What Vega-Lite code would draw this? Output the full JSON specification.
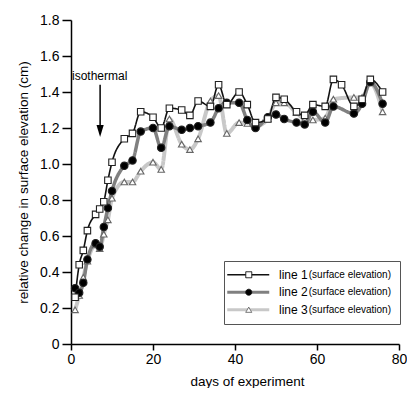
{
  "$schema": "https://vega.github.io/schema/vega-lite/v6.json",
  "width": 328,
  "height": 324,
  "padding": {"left": 16, "top": 13, "right": 0, "bottom": 0},
  "background": "white",
  "config": {
    "view": {"stroke": null},
    "font": "Liberation Sans",
    "axis": {
      "grid": false,
      "domainColor": "#000",
      "tickColor": "#000",
      "labelColor": "#000",
      "titleColor": "#000",
      "domainWidth": 1.5,
      "tickWidth": 1.5,
      "labelFont": "Liberation Sans",
      "titleFont": "Liberation Sans",
      "labelFontSize": 14,
      "titleFontSize": 13.5,
      "titleFontWeight": "normal"
    }
  },
  "datasets": {
    "series": [
      {"series": "line 3", "day": 1, "value": 0.19},
      {"series": "line 3", "day": 2, "value": 0.27},
      {"series": "line 3", "day": 3, "value": 0.37},
      {"series": "line 3", "day": 4, "value": 0.46},
      {"series": "line 3", "day": 6, "value": 0.55},
      {"series": "line 3", "day": 7, "value": 0.53},
      {"series": "line 3", "day": 8, "value": 0.61},
      {"series": "line 3", "day": 9, "value": 0.69},
      {"series": "line 3", "day": 10, "value": 0.81},
      {"series": "line 3", "day": 13, "value": 0.90},
      {"series": "line 3", "day": 15, "value": 0.90},
      {"series": "line 3", "day": 17, "value": 0.96},
      {"series": "line 3", "day": 20, "value": 1.01},
      {"series": "line 3", "day": 22, "value": 0.97},
      {"series": "line 3", "day": 24, "value": 1.25},
      {"series": "line 3", "day": 27, "value": 1.11},
      {"series": "line 3", "day": 29, "value": 1.08},
      {"series": "line 3", "day": 31, "value": 1.14},
      {"series": "line 3", "day": 34, "value": 1.35},
      {"series": "line 3", "day": 36, "value": 1.38},
      {"series": "line 3", "day": 38, "value": 1.17},
      {"series": "line 3", "day": 41, "value": 1.23},
      {"series": "line 3", "day": 43, "value": 1.225},
      {"series": "line 3", "day": 45, "value": 1.21},
      {"series": "line 3", "day": 48, "value": 1.25},
      {"series": "line 3", "day": 50, "value": 1.34},
      {"series": "line 3", "day": 52, "value": 1.34},
      {"series": "line 3", "day": 55, "value": 1.285},
      {"series": "line 3", "day": 57, "value": 1.25},
      {"series": "line 3", "day": 59, "value": 1.245},
      {"series": "line 3", "day": 62, "value": 1.255},
      {"series": "line 3", "day": 64, "value": 1.36},
      {"series": "line 3", "day": 69, "value": 1.37},
      {"series": "line 3", "day": 71, "value": 1.37},
      {"series": "line 3", "day": 73, "value": 1.45},
      {"series": "line 3", "day": 76, "value": 1.29},
      {"series": "line 2", "day": 1, "value": 0.31},
      {"series": "line 2", "day": 2, "value": 0.285},
      {"series": "line 2", "day": 3, "value": 0.34},
      {"series": "line 2", "day": 4, "value": 0.47},
      {"series": "line 2", "day": 6, "value": 0.56},
      {"series": "line 2", "day": 7, "value": 0.54},
      {"series": "line 2", "day": 8, "value": 0.65},
      {"series": "line 2", "day": 9, "value": 0.755},
      {"series": "line 2", "day": 10, "value": 0.85},
      {"series": "line 2", "day": 13, "value": 0.99},
      {"series": "line 2", "day": 15, "value": 1.02},
      {"series": "line 2", "day": 17, "value": 1.18},
      {"series": "line 2", "day": 20, "value": 1.20},
      {"series": "line 2", "day": 22, "value": 1.09},
      {"series": "line 2", "day": 24, "value": 1.21},
      {"series": "line 2", "day": 27, "value": 1.19},
      {"series": "line 2", "day": 29, "value": 1.20},
      {"series": "line 2", "day": 31, "value": 1.21},
      {"series": "line 2", "day": 34, "value": 1.23},
      {"series": "line 2", "day": 36, "value": 1.31},
      {"series": "line 2", "day": 38, "value": 1.34},
      {"series": "line 2", "day": 41, "value": 1.34},
      {"series": "line 2", "day": 43, "value": 1.245},
      {"series": "line 2", "day": 45, "value": 1.20},
      {"series": "line 2", "day": 48, "value": 1.26},
      {"series": "line 2", "day": 50, "value": 1.275},
      {"series": "line 2", "day": 52, "value": 1.25},
      {"series": "line 2", "day": 55, "value": 1.23},
      {"series": "line 2", "day": 57, "value": 1.22},
      {"series": "line 2", "day": 59, "value": 1.29},
      {"series": "line 2", "day": 62, "value": 1.23},
      {"series": "line 2", "day": 64, "value": 1.32},
      {"series": "line 2", "day": 69, "value": 1.28},
      {"series": "line 2", "day": 71, "value": 1.335},
      {"series": "line 2", "day": 73, "value": 1.455},
      {"series": "line 2", "day": 76, "value": 1.335},
      {"series": "line 1", "day": 1, "value": 0.26},
      {"series": "line 1", "day": 2, "value": 0.44},
      {"series": "line 1", "day": 3, "value": 0.52},
      {"series": "line 1", "day": 4, "value": 0.63},
      {"series": "line 1", "day": 6, "value": 0.72},
      {"series": "line 1", "day": 7, "value": 0.75},
      {"series": "line 1", "day": 8, "value": 0.79},
      {"series": "line 1", "day": 9, "value": 0.91},
      {"series": "line 1", "day": 10, "value": 1.01},
      {"series": "line 1", "day": 13, "value": 1.14},
      {"series": "line 1", "day": 15, "value": 1.17},
      {"series": "line 1", "day": 17, "value": 1.29},
      {"series": "line 1", "day": 20, "value": 1.26},
      {"series": "line 1", "day": 22, "value": 1.20},
      {"series": "line 1", "day": 24, "value": 1.31},
      {"series": "line 1", "day": 27, "value": 1.30},
      {"series": "line 1", "day": 29, "value": 1.27},
      {"series": "line 1", "day": 31, "value": 1.35},
      {"series": "line 1", "day": 34, "value": 1.32},
      {"series": "line 1", "day": 36, "value": 1.44},
      {"series": "line 1", "day": 38, "value": 1.33},
      {"series": "line 1", "day": 41, "value": 1.40},
      {"series": "line 1", "day": 43, "value": 1.33},
      {"series": "line 1", "day": 45, "value": 1.23},
      {"series": "line 1", "day": 48, "value": 1.25},
      {"series": "line 1", "day": 50, "value": 1.37},
      {"series": "line 1", "day": 52, "value": 1.36},
      {"series": "line 1", "day": 55, "value": 1.29},
      {"series": "line 1", "day": 57, "value": 1.27},
      {"series": "line 1", "day": 59, "value": 1.33},
      {"series": "line 1", "day": 62, "value": 1.32},
      {"series": "line 1", "day": 64, "value": 1.47},
      {"series": "line 1", "day": 66, "value": 1.44},
      {"series": "line 1", "day": 69, "value": 1.32},
      {"series": "line 1", "day": 71, "value": 1.36},
      {"series": "line 1", "day": 73, "value": 1.47},
      {"series": "line 1", "day": 76, "value": 1.40}
    ]
  },
  "encoding": {
    "x": {
      "field": "day",
      "type": "quantitative",
      "scale": {"domain": [0, 80], "nice": false},
      "axis": {
        "values": [0, 20, 40, 60, 80],
        "title": "days of experiment",
        "tickSize": 6,
        "labelPadding": 2,
        "labelDx": 4,
        "labelFlush": false,
        "titlePadding": 8,
        "titleX": 176
      }
    },
    "y": {
      "field": "value",
      "type": "quantitative",
      "scale": {"domain": [0, 1.8], "nice": false},
      "axis": {
        "values": [0, 0.2, 0.4, 0.6, 0.8, 1, 1.2, 1.4, 1.6, 1.8],
        "labelExpr": "datum.value == 0 ? '0' : format(datum.value, '.1f')",
        "title": "relative change in surface elevation (cm)",
        "tickSize": 9,
        "labelPadding": 3,
        "titlePadding": 9
      }
    }
  },
  "layer": [
    {
      "data": {"name": "series"},
      "mark": {"type": "line", "interpolate": "monotone"},
      "encoding": {
        "color": {
          "field": "series",
          "type": "nominal",
          "scale": {"domain": ["line 1", "line 2", "line 3"], "range": ["#111111", "#808080", "#c8c8c8"]},
          "legend": {
            "orient": "none",
            "legendX": 153,
            "legendY": 240,
            "title": null,
            "padding": 8.75,
            "rowPadding": 5.5,
            "symbolSize": 306,
            "symbolOffset": 9.5,
            "labelOffset": 24.75,
            "labelFont": "Liberation Sans",
            "labelFontSize": 12,
            "labelColor": "#000",
            "encode": {
              "symbols": {
                "update": {
                  "shape": {"value": "M-2.4,0H2.4"},
                  "strokeWidth": {"signal": "datum.value === 'line 1' ? 1.6 : 3"},
                  "strokeJoin": {"value": "round"},
                  "stroke": {"signal": "datum.value === 'line 1' ? '#111111' : datum.value === 'line 2' ? '#808080' : '#c8c8c8'"},
                  "fill": {"value": "transparent"},
                  "opacity": {"value": 1}
                }
              }
            }
          }
        },
        "strokeDash": {
          "field": "series",
          "type": "nominal",
          "scale": {"range": [[1, 0], [1, 0], [1, 0]]},
          "legend": {
            "orient": "none",
            "legendX": 153,
            "legendY": 241,
            "title": null,
            "padding": 8.75,
            "rowPadding": 7.5,
            "symbolSize": 36,
            "symbolOffset": 11,
            "labelOffset": 55,
            "labelFont": "Liberation Sans",
            "labelFontSize": 10,
            "labelColor": "#000",
            "labelExpr": "'(surface elevation)'",
            "strokeColor": "#555555",
            "encode": {
              "symbols": {
                "update": {
                  "shape": {"signal": "datum.value === 'line 1' ? 'square' : datum.value === 'line 2' ? 'circle' : 'triangle-up'"},
                  "fill": {"signal": "datum.value === 'line 2' ? '#000000' : '#ffffff'"},
                  "stroke": {"signal": "datum.value === 'line 3' ? '#666666' : '#111111'"},
                  "strokeWidth": {"value": 1},
                  "strokeDash": {"value": []},
                  "opacity": {"value": 1}
                }
              }
            }
          }
        },
        "strokeWidth": {
          "condition": [
            {"test": "datum.series === 'line 1'", "value": 1.6},
            {"test": "datum.series === 'line 3'", "value": 4}
          ],
          "value": 3.5
        }
      }
    },
    {
      "data": {"name": "series"},
      "mark": {"type": "point", "strokeWidth": 1.1, "opacity": 1},
      "encoding": {
        "shape": {
          "condition": [
            {"test": "datum.series === 'line 1'", "value": "square"},
            {"test": "datum.series === 'line 2'", "value": "circle"}
          ],
          "value": "triangle-up"
        },
        "fill": {"condition": {"test": "datum.series === 'line 2'", "value": "#000000"}, "value": "#ffffff"},
        "stroke": {"condition": {"test": "datum.series === 'line 3'", "value": "#666666"}, "value": "#222222"},
        "size": {"condition": {"test": "datum.series === 'line 2'", "value": 55}, "value": 42}
      }
    },
    {
      "data": {"values": [{"day": 7.1, "value": 1.44, "value2": 1.2}]},
      "mark": {"type": "rule", "strokeWidth": 1.5, "color": "#000000"},
      "encoding": {"y2": {"field": "value2"}}
    },
    {
      "data": {"values": [{"day": 7.1, "value": 1.183}]},
      "mark": {"type": "point", "shape": "M-0.6,-1L0.6,-1L0,1Z", "size": 144, "filled": true, "color": "#000000", "opacity": 1}
    },
    {
      "data": {"values": [{"day": 0.25, "value": 1.49, "label": "isothermal"}]},
      "mark": {"type": "text", "align": "left", "baseline": "middle", "fontSize": 12, "font": "Liberation Sans", "color": "#000000"},
      "encoding": {"text": {"field": "label"}}
    }
  ]
}
